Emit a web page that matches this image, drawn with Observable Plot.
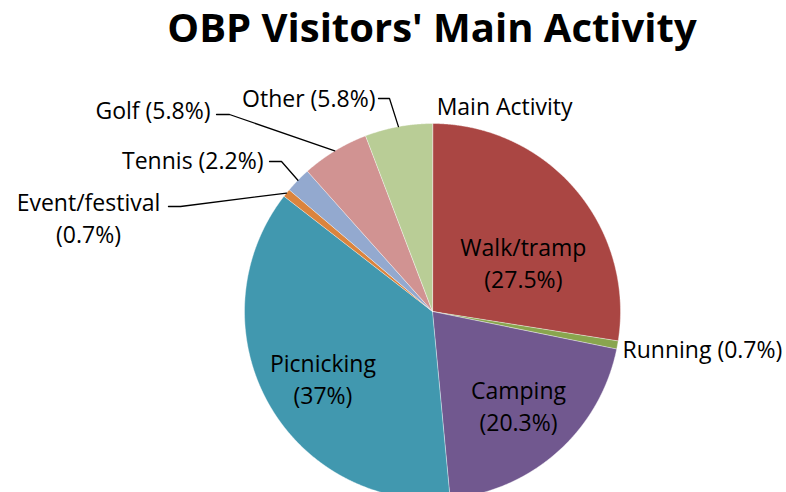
<!DOCTYPE html>
<html><head><meta charset="utf-8">
<script src="https://cdn.jsdelivr.net/npm/d3@7"></script>
<script src="https://cdn.jsdelivr.net/npm/@observablehq/plot@0.6"></script>
<style>
body{margin:0;background:#fff;width:786px;height:492px;overflow:hidden;font-family:"Open Sans",sans-serif}
#title{box-sizing:border-box;width:786px;height:66px;padding-left:78px;text-align:center;font-weight:700;font-size:40px;line-height:53px;color:#000;white-space:nowrap}
</style></head><body>
<div id="title">OBP Visitors' Main Activity</div>
<div id="chart"></div>
<script>
// ---- data ----
const categories = ["Walk/tramp","Running","Camping","Picnicking","Event/festival","Tennis","Golf","Other"];
const shares = [27.5, 0.7, 20.3, 37, 0.7, 2.2, 5.8, 5.8];
const colors = ["#AA4643","#89A54E","#71588F","#4198AF","#DB843D","#93A9CF","#D19392","#B9CD96"];
const seriesName = "Main Activity";

// ---- layout (pixels / radius units) ----
const W = 786, H = 426, CX = 432, CY = 245, R = 188;
// inside labels: radius factor and angular nudge (deg) from slice mid-angle
const insideLayout = {"Walk/tramp":{r:0.55,nudge:12}, "Camping":{r:0.674,nudge:-0.8}, "Picnicking":{r:0.68,nudge:-2.2}};
// outside labels: text position (radius units), anchor, leader tail/elbow
const outsideLayout = {
  "Running":        {x:1.0106, y:-0.1915, anchor:"start", wrap:false},
  "Event/festival": {x:-1.8298, y:0.5053, anchor:"middle", wrap:true, tail:[-1.4043,0.5585], elbow:[-1.3404,0.5585]},
  "Tennis":         {x:-0.8989, y:0.8138, anchor:"end", wrap:false, tail:[-0.8670,0.7979], elbow:[-0.8032,0.7979]},
  "Golf":           {x:-1.1809, y:1.0798, anchor:"end", wrap:false, tail:[-1.1489,1.0479], elbow:[-1.0798,1.0479]},
  "Other":          {x:-0.3032, y:1.1436, anchor:"end", wrap:false, tail:[-0.2872,1.1330], elbow:[-0.2287,1.1330]}
};
const seriesNamePos = {x:0.022, y:1.101};

// ---- geometry from data ----
const total = d3.sum(shares);
let acc = 0;
const slices = categories.map((c, i) => {
  const a0 = acc / total * 2 * Math.PI; acc += shares[i];
  const a1 = acc / total * 2 * Math.PI;
  return {c, v: shares[i], a0, a1, mid: (a0 + a1) / 2};
});
const piePts = slices.flatMap(s => {
  const n = Math.max(2, Math.ceil((s.a1 - s.a0) / 0.004));
  const pts = [{c: s.c, x: 0, y: 0}];
  for (let k = 0; k <= n; k++) {
    const a = s.a0 + (s.a1 - s.a0) * k / n;
    pts.push({c: s.c, x: Math.sin(a), y: Math.cos(a)});
  }
  return pts;
});
const insideLabels = slices.filter(s => insideLayout[s.c]).map(s => {
  const L = insideLayout[s.c], a = s.mid + L.nudge * Math.PI / 180;
  return {x: L.r * Math.sin(a), y: L.r * Math.cos(a), text: `${s.c}\n(${s.v}%)`};
});
const outsideLabels = slices.filter(s => outsideLayout[s.c]).map(s => {
  const L = outsideLayout[s.c];
  return {x: L.x, y: L.y, anchor: L.anchor, text: L.wrap ? `${s.c}\n(${s.v}%)` : `${s.c} (${s.v}%)`};
});
const leaders = slices.filter(s => outsideLayout[s.c] && outsideLayout[s.c].tail).flatMap(s => {
  const L = outsideLayout[s.c];
  return [
    {c: s.c, x: Math.sin(s.mid), y: Math.cos(s.mid)},
    {c: s.c, x: L.elbow[0], y: L.elbow[1]},
    {c: s.c, x: L.tail[0], y: L.tail[1]}
  ];
});

const txt = {fontSize: 23, lineHeight: 32/23, fill: "#000", fontFamily: "Open Sans"};
const chart = Plot.plot({
  width: W, height: H, margin: 0,
  x: {domain: [-CX / R, (W - CX) / R], axis: null},
  y: {domain: [-(H - CY) / R, CY / R], axis: null},
  color: {domain: categories, range: colors},
  style: {fontFamily: "Open Sans", background: "white", overflow: "hidden"},
  marks: [
    Plot.line(piePts, {x: "x", y: "y", z: "c", fill: "c", stroke: "white", strokeWidth: 0.6, strokeOpacity: 0.7, curve: "linear-closed"}),
    Plot.line(leaders, {x: "x", y: "y", z: "c", stroke: "#000", strokeWidth: 1.3}),
    Plot.text(insideLabels, {x: "x", y: "y", text: "text", textAnchor: "middle", ...txt}),
    Plot.text(outsideLabels.filter(d => d.anchor === "start"), {x: "x", y: "y", text: "text", textAnchor: "start", ...txt}),
    Plot.text(outsideLabels.filter(d => d.anchor === "end"), {x: "x", y: "y", text: "text", textAnchor: "end", ...txt}),
    Plot.text(outsideLabels.filter(d => d.anchor === "middle"), {x: "x", y: "y", text: "text", textAnchor: "middle", ...txt}),
    Plot.text([seriesName], {x: seriesNamePos.x, y: seriesNamePos.y, text: d => d, textAnchor: "start", ...txt})
  ]
});
document.getElementById("chart").appendChild(chart);
</script>
</body></html>
